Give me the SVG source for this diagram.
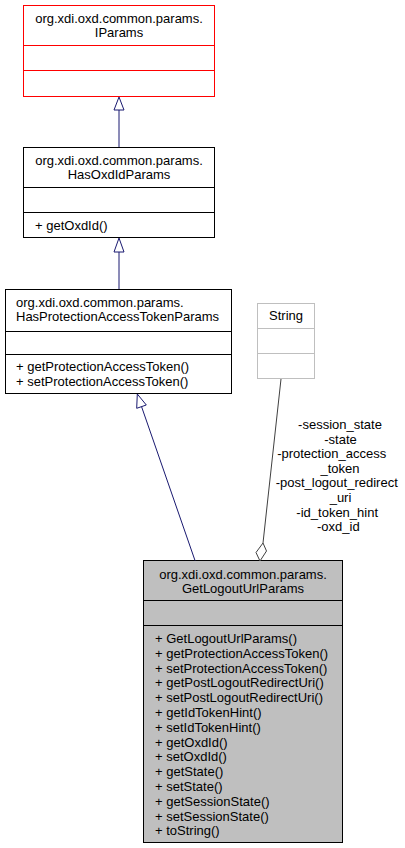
<svg xmlns="http://www.w3.org/2000/svg" width="405" height="848" viewBox="0 0 405 848">
<style>
  text { font-family: "Liberation Sans", Arial, sans-serif; font-size: 13px; fill: #000; }
  .c { text-anchor: middle; }
  .box { fill: #fff; stroke: #000; stroke-width: 1; }
  .red { fill: #fff; stroke: #ff0000; stroke-width: 1; }
  .ext { fill: #fff; stroke: #bfbfbf; stroke-width: 1; }
  .cur { fill: #bfbfbf; stroke: #000; stroke-width: 1; }
  .inh { stroke: #191970; stroke-width: 1; fill: none; }
  .inhhead { stroke: #191970; stroke-width: 1; fill: #fff; }
  .assoc { stroke: #404040; stroke-width: 1; fill: none; }
  .assochead { stroke: #404040; stroke-width: 1; fill: #fff; }
</style>
<rect width="405" height="848" fill="#fff"/>

<g id="IParams">
  <rect class="red" x="23.5" y="5.5" width="191" height="91"/>
  <line class="red" x1="23.5" y1="45.5" x2="214.5" y2="45.5"/>
  <line class="red" x1="23.5" y1="70.5" x2="214.5" y2="70.5"/>
  <text class="c" x="119" y="23">org.xdi.oxd.common.params.</text>
  <text class="c" x="119" y="37">IParams</text>
</g>

<g id="HasOxdIdParams">
  <rect class="box" x="23.5" y="147.5" width="191" height="90"/>
  <line class="box" x1="23.5" y1="187.5" x2="214.5" y2="187.5"/>
  <line class="box" x1="23.5" y1="212.5" x2="214.5" y2="212.5"/>
  <text class="c" x="119" y="164.5">org.xdi.oxd.common.params.</text>
  <text class="c" x="119" y="178.5">HasOxdIdParams</text>
  <text x="35" y="230">+ getOxdId()</text>
</g>

<g id="HasProtectionAccessTokenParams">
  <rect class="box" x="5.5" y="289.5" width="226" height="104"/>
  <line class="box" x1="5.5" y1="331.5" x2="231.5" y2="331.5"/>
  <line class="box" x1="5.5" y1="354.5" x2="231.5" y2="354.5"/>
  <text x="16" y="306.5">org.xdi.oxd.common.params.</text>
  <text x="16" y="320.5">HasProtectionAccessTokenParams</text>
  <text x="16" y="371">+ getProtectionAccessToken()</text>
  <text x="16" y="385.5">+ setProtectionAccessToken()</text>
</g>

<g id="String">
  <rect class="ext" x="257.5" y="303.5" width="57" height="75"/>
  <line class="ext" x1="257.5" y1="328.5" x2="314.5" y2="328.5"/>
  <line class="ext" x1="257.5" y1="353.5" x2="314.5" y2="353.5"/>
  <text class="c" x="286" y="319.5">String</text>
</g>

<g id="GetLogoutUrlParams">
  <rect class="cur" x="143.5" y="560.5" width="199" height="282"/>
  <line class="cur" x1="143.5" y1="600.5" x2="342.5" y2="600.5"/>
  <line class="cur" x1="143.5" y1="625.5" x2="342.5" y2="625.5"/>
  <text class="c" x="243" y="578.5">org.xdi.oxd.common.params.</text>
  <text class="c" x="243" y="592.5">GetLogoutUrlParams</text>
  <text x="155" y="643">+ GetLogoutUrlParams()</text>
  <text x="155" y="657.8">+ getProtectionAccessToken()</text>
  <text x="155" y="672.6">+ setProtectionAccessToken()</text>
  <text x="155" y="687.4">+ getPostLogoutRedirectUri()</text>
  <text x="155" y="702.2">+ setPostLogoutRedirectUri()</text>
  <text x="155" y="717">+ getIdTokenHint()</text>
  <text x="155" y="731.8">+ setIdTokenHint()</text>
  <text x="155" y="746.6">+ getOxdId()</text>
  <text x="155" y="761.4">+ setOxdId()</text>
  <text x="155" y="776.2">+ getState()</text>
  <text x="155" y="791">+ setState()</text>
  <text x="155" y="805.8">+ getSessionState()</text>
  <text x="155" y="820.6">+ setSessionState()</text>
  <text x="155" y="835.4">+ toString()</text>
</g>

<g id="connectors">
  <line class="inh" x1="119" y1="110" x2="119" y2="147"/>
  <polygon class="inhhead" points="119,97 114,110 124,110"/>

  <line class="inh" x1="119" y1="252" x2="119" y2="289"/>
  <polygon class="inhhead" points="119,238 114,252 124,252"/>

  <line class="inh" x1="141.5" y1="406.5" x2="195" y2="560.5"/>
  <polygon class="inhhead" points="137.3,394 136.7,408.3 146.3,405"/>

  <line class="assoc" x1="281" y1="379" x2="263" y2="543"/>
  <polygon class="assochead" points="263,543 256,552.5 260,561 266.5,551"/>
  <text class="c" x="340" y="429">-session_state</text>
  <text class="c" x="340.5" y="443.6">-state</text>
  <text class="c" x="331.7" y="458.2">-protection_access</text>
  <text class="c" x="340" y="472.8">_token</text>
  <text class="c" x="336.7" y="487.4">-post_logout_redirect</text>
  <text class="c" x="340.5" y="502">_uri</text>
  <text class="c" x="337.2" y="516.6">-id_token_hint</text>
  <text class="c" x="338.3" y="531.2">-oxd_id</text>
</g>
</svg>
